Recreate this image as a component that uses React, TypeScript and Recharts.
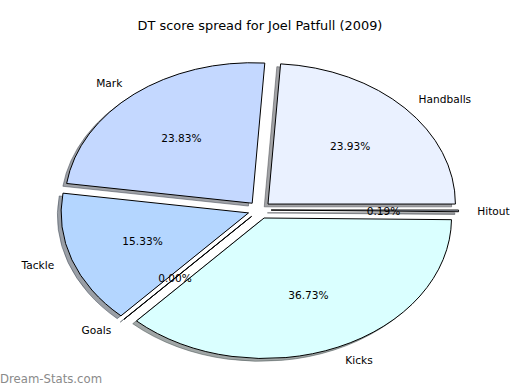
import { PieChart, Pie, Cell } from 'recharts';

const categories = ['Handballs', 'Mark', 'Tackle', 'Goals', 'Kicks', 'Hitout'];
const shares = [23.93, 23.83, 15.33, 0.0, 36.73, 0.19];
const COLORS = ['#eaf1ff', '#c4d8ff', '#b4d6ff', '#c4e6ff', '#daffff', '#e0ecff'];

const data = categories.map((name, i) => ({ name, value: shares[i] }));

const CX = 259.5;
const CY = 210;
const RY = 140.5;
const ASPECT = 1.334; // pie is drawn squashed like the original
const EXPLODE = 0.062;
const FONT = '"DejaVu Sans", sans-serif';

const rad = (a: number) => (a * Math.PI) / 180;

// exploded wedge origin for a slice
function origin(cx: number, cy: number, r: number, mid: number) {
  return {
    x: cx + EXPLODE * r * ASPECT * Math.cos(rad(mid)),
    y: cy - EXPLODE * r * Math.sin(rad(mid)),
  };
}

function wedgePath(props: any) {
  const { cx, cy, outerRadius, startAngle, endAngle } = props;
  const rx = outerRadius * ASPECT;
  const ry = outerRadius;
  const mid = (startAngle + endAngle) / 2;
  const o = origin(cx, cy, outerRadius, mid);
  const p = (a: number) => [o.x + rx * Math.cos(rad(a)), o.y - ry * Math.sin(rad(a))];
  const [x1, y1] = p(startAngle);
  const [x2, y2] = p(endAngle);
  const large = Math.abs(endAngle - startAngle) > 180 ? 1 : 0;
  if (Math.abs(endAngle - startAngle) < 1e-6) {
    return `M${o.x},${o.y}L${x1},${y1}Z`;
  }
  return `M${o.x},${o.y}L${x1},${y1}A${rx},${ry} 0 ${large} 0 ${x2},${y2}Z`;
}

function shade(hex: string) {
  const n = parseInt(hex.slice(1), 16);
  const r = Math.round(((n >> 16) & 255) * 0.3);
  const g = Math.round(((n >> 8) & 255) * 0.3);
  const b = Math.round((n & 255) * 0.3);
  return `rgb(${r},${g},${b})`;
}

const ShadowShape = (props: any) => {
  const c = shade(COLORS[props.index % COLORS.length]);
  return (
    <path
      d={wedgePath(props)}
      transform="translate(-3.75,2.8)"
      fill={c}
      fillOpacity={0.5}
      stroke={c}
      strokeOpacity={0.5}
      strokeWidth={1}
    />
  );
};

const WedgeShape = (props: any) => (
  <path d={wedgePath(props)} fill={props.fill} stroke="#000" strokeWidth={1} strokeLinejoin="round" />
);

const renderLabel = (props: any) => {
  const { cx, cy, outerRadius, startAngle, endAngle, name, value } = props;
  const mid = (startAngle + endAngle) / 2;
  const o = origin(cx, cy, outerRadius, mid);
  const rx = outerRadius * ASPECT;
  const cos = Math.cos(rad(mid));
  const sin = Math.sin(rad(mid));
  const lx = o.x + 1.1 * rx * cos;
  const ly = o.y - 1.1 * outerRadius * sin;
  const px = o.x + 0.6 * rx * cos;
  const py = o.y - 0.6 * outerRadius * sin;
  return (
    <g>
      <text x={lx} y={ly} textAnchor={lx > cx ? 'start' : 'end'} dominantBaseline="central" fontSize={10.6} fontFamily={FONT} fill="#000">
        {name}
      </text>
      <text x={px} y={py} textAnchor="middle" dominantBaseline="central" fontSize={10.6} fontFamily={FONT} fill="#000">
        {Number(value).toFixed(2)}%
      </text>
    </g>
  );
};

export default function App() {
  return (
    <div style={{ position: 'absolute', left: 0, top: 0, width: 520, height: 390, background: '#fff' }}>
      <PieChart width={520} height={390} margin={{ top: 0, right: 0, bottom: 0, left: 0 }}>
        <text x={260} y={25} textAnchor="middle" dominantBaseline="central" fontSize={12.9} fontFamily={FONT} fill="#000">
          DT score spread for Joel Patfull (2009)
        </text>
        <Pie
          data={data}
          dataKey="value"
          nameKey="name"
          cx={CX}
          cy={CY}
          outerRadius={RY}
          startAngle={0}
          endAngle={360}
          stroke="none"
          shape={ShadowShape}
          isAnimationActive={false}
        />
        <Pie
          data={data}
          dataKey="value"
          nameKey="name"
          cx={CX}
          cy={CY}
          outerRadius={RY}
          startAngle={0}
          endAngle={360}
          shape={WedgeShape}
          label={renderLabel}
          labelLine={false}
          isAnimationActive={false}
        >
          {data.map((_, i) => (
            <Cell key={`cell-${i}`} fill={COLORS[i % COLORS.length]} />
          ))}
        </Pie>
        <text x={0} y={379} dominantBaseline="central" fontSize={11.7} fontFamily={FONT} fill="#8a8a8a">
          Dream-Stats.com
        </text>
      </PieChart>
    </div>
  );
}
